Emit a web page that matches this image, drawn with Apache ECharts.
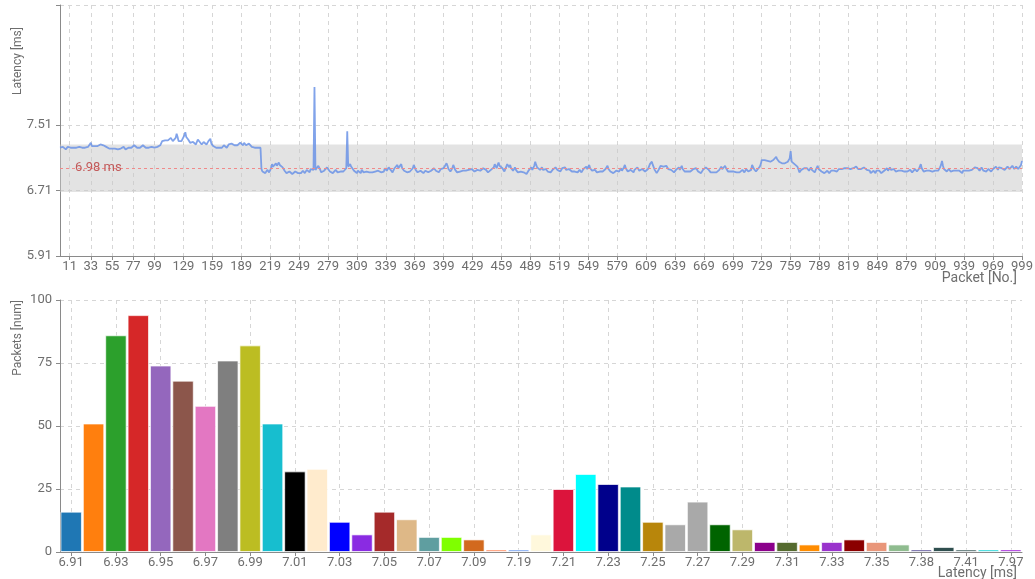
<!DOCTYPE html>
<html>
<head>
<meta charset="utf-8">
<title>Latency</title>
<script src="https://cdn.jsdelivr.net/npm/echarts@6/dist/echarts.min.js"></script>
<style>
html, body { margin: 0; padding: 0; background: #fff; }
#main { width: 1035px; height: 579px; }
</style>
</head>
<body>
<div id="main"></div>
<script>
// latency per packet [ms], packets 1..999
var latency1 = [ // 1-100
	7.23,7.22,7.23,7.24,7.22,7.23,7.21,7.22,7.24,7.23,7.22,7.23,7.22,7.24,7.23,7.22,7.21,7.23,7.22,7.23,
	7.24,7.23,7.22,7.23,7.24,7.22,7.23,7.24,7.23,7.24,7.25,7.24,7.29,7.25,7.24,7.23,7.25,7.24,7.26,7.25,
	7.24,7.25,7.27,7.26,7.27,7.26,7.25,7.26,7.24,7.25,7.23,7.22,7.21,7.23,7.22,7.21,7.23,7.22,7.23,7.22,
	7.21,7.22,7.23,7.22,7.21,7.22,7.24,7.22,7.21,7.23,7.22,7.23,7.21,7.22,7.23,7.25,7.24,7.26,7.25,7.24,
	7.23,7.24,7.22,7.23,7.25,7.24,7.26,7.25,7.24,7.23,7.24,7.22,7.23,7.24,7.23,7.24,7.25,7.24,7.23,7.24
];
var latency2 = [ // 101-140
	7.23,7.24,7.25,7.24,7.26,7.25,7.31,7.33,7.30,7.32,7.31,7.34,7.32,7.31,7.33,7.35,7.36,7.31,7.30,7.32,
	7.35,7.40,7.36,7.31,7.30,7.32,7.31,7.30,7.33,7.38,7.42,7.36,7.34,7.33,7.31,7.29,7.28,7.29,7.30,7.28
];
var latency3 = [ // 141-209
	7.29,7.27,7.28,7.33,7.35,7.30,7.29,7.27,7.28,7.30,7.29,7.28,7.27,7.29,7.31,7.30,7.34,7.28,7.26,7.25,
	7.24,7.25,7.23,7.24,7.22,7.23,7.24,7.25,7.23,7.24,7.26,7.25,7.24,7.23,7.25,7.27,7.26,7.25,7.28,7.27,
	7.29,7.26,7.27,7.28,7.26,7.25,7.27,7.29,7.28,7.27,7.26,7.29,7.28,7.26,7.27,7.25,7.28,7.27,7.26,7.24,
	7.25,7.24,7.23,7.25,7.24,7.23,7.24,7.22,7.23
];
var latency4 = [ // 210-300
	6.97,6.94,6.93,6.95,6.92,6.94,6.96,6.95,6.93,6.94,6.98,7.03,7.00,6.98,7.02,7.04,7.01,7.03,7.05,7.02,
	7.03,7.01,6.99,6.97,6.95,6.94,6.92,6.93,6.92,6.94,6.93,6.92,6.91,6.93,6.92,6.94,6.93,6.95,6.92,6.93,
	6.94,6.92,6.93,6.95,6.94,6.92,6.93,6.96,6.94,6.95,6.93,6.97,6.95,6.98,6.96,7.97,6.96,6.94,6.97,7.01,
	6.99,6.96,6.93,6.94,6.92,6.95,6.93,6.96,6.99,7.01,6.97,6.94,6.93,6.95,6.92,6.94,6.93,6.96,6.94,6.93,
	6.95,6.92,6.94,6.93,6.95,6.94,6.96,6.95,6.98,7.43,7.00
];
var latency5 = [ // 301-720
	7.01,7.03,7.00,7.02,6.98,6.95,6.93,6.94,6.92,6.95,6.93,6.94,6.92,6.96,6.94,6.93,6.95,6.92,6.94,6.96,
	6.95,6.93,6.91,6.94,6.93,6.92,6.95,6.94,6.93,6.96,6.95,6.97,6.94,6.93,6.95,6.92,6.94,6.98,6.96,6.95,
	6.97,6.99,6.98,6.96,6.94,6.93,6.95,6.98,6.97,6.99,7.02,6.98,6.96,6.99,7.03,6.98,6.96,6.95,6.97,6.94,
	6.93,6.95,6.92,6.94,6.96,6.95,6.98,7.02,6.99,6.96,6.95,6.93,6.94,6.92,6.95,6.93,6.94,6.92,6.93,6.95,
	6.94,6.96,6.93,6.92,6.94,6.95,6.93,6.96,6.98,6.97,6.95,6.94,6.96,6.93,6.95,6.97,6.99,6.96,6.98,7.00,
	6.98,7.04,7.01,6.97,6.95,6.94,6.96,6.98,7.02,6.99,6.96,6.94,6.93,6.95,6.92,6.94,6.96,6.93,6.95,6.94,
	6.93,6.95,6.97,6.94,6.96,6.98,6.95,6.97,6.99,6.96,6.94,6.95,6.93,6.96,6.98,6.97,6.95,6.94,6.96,6.98,
	6.97,6.99,6.96,6.95,6.93,6.95,6.94,6.96,6.95,6.97,6.99,7.03,7.01,6.98,7.02,7.05,7.01,6.99,7.02,6.98,
	6.96,6.94,6.97,7.00,7.03,7.01,6.99,7.02,6.98,6.96,6.95,6.97,6.99,6.96,6.94,6.93,6.95,6.92,6.94,6.96,
	6.95,6.93,6.94,6.92,6.91,6.93,6.95,6.94,6.97,6.99,6.96,6.98,7.01,7.06,7.02,6.99,7.00,6.98,6.96,6.97,
	6.99,6.96,6.98,6.95,6.97,6.96,6.94,6.96,6.95,6.93,6.94,6.96,6.95,6.97,6.99,6.98,6.96,6.95,6.97,6.94,
	6.96,6.98,7.00,6.97,6.99,6.96,6.94,6.95,6.97,6.98,6.96,6.94,6.93,6.95,6.94,6.96,6.95,6.93,6.94,6.96,
	6.95,6.93,6.95,6.97,6.96,6.98,7.00,6.97,6.99,7.02,6.98,6.96,6.95,6.97,6.94,6.96,6.95,6.93,6.94,6.92,
	6.94,6.93,6.95,6.94,6.96,6.95,6.97,6.99,7.01,6.97,6.96,6.94,6.93,6.95,6.92,6.94,6.93,6.95,6.97,6.96,
	6.94,6.96,6.98,6.95,6.97,6.99,7.02,6.98,6.96,6.94,6.95,6.93,6.96,6.94,6.95,6.93,6.96,6.98,6.97,6.99,
	6.97,6.95,6.96,6.94,6.97,6.95,6.96,6.94,6.93,6.95,6.97,6.99,7.03,7.05,7.06,7.02,6.99,6.96,6.94,6.92,
	6.94,6.96,6.98,7.01,6.99,7.03,7.00,7.02,6.98,7.01,6.99,6.97,6.95,6.97,6.96,6.94,6.95,6.93,6.94,6.96,
	6.95,6.97,6.99,6.96,6.98,7.01,6.97,6.96,6.94,6.95,6.93,6.94,6.92,6.95,6.94,6.96,6.95,6.97,6.99,6.96,
	6.98,6.96,6.94,6.93,6.95,6.92,6.94,6.96,6.98,6.97,6.99,7.00,6.98,6.96,6.95,6.93,6.94,6.92,6.93,6.95,
	6.94,6.93,6.92,6.94,6.96,6.98,7.00,6.97,6.99,6.98,7.01,6.98,6.96,6.94,6.93,6.95,6.94,6.93,6.95,6.94,
	6.96,6.95,6.93,6.94,6.92,6.93,6.95,6.94,6.96,6.94,6.93,6.95,6.97,6.96,6.94,6.95,6.93,6.96,7.02,7.04
];
var latency6 = [ // 721-770
	6.97,6.95,6.94,6.96,6.97,6.95,7.00,7.03,7.08,7.09,7.07,7.08,7.10,7.08,7.07,7.09,7.08,7.06,7.07,7.05,
	7.08,7.06,7.10,7.12,7.09,7.07,7.06,7.08,7.05,7.04,7.06,7.05,7.04,7.05,7.03,7.06,7.05,7.10,7.19,7.06,
	7.04,7.05,7.03,7.01,7.02,7.00,6.97,6.93,6.95,6.96
];
var latency7 = [ // 771-999
	6.94,6.96,6.98,6.97,7.00,6.98,6.96,6.95,6.97,6.99,6.96,6.94,6.95,6.93,6.96,6.98,7.01,6.97,6.95,6.96,
	6.94,6.93,6.95,6.92,6.94,6.93,6.95,6.94,6.92,6.93,6.95,6.94,6.96,6.95,6.97,6.96,6.94,6.95,6.97,6.98,
	6.96,6.97,6.99,6.97,6.98,6.97,6.99,6.98,7.00,6.98,6.97,6.98,6.99,6.98,6.97,6.99,7.00,6.98,6.97,6.98,
	6.99,6.97,6.98,6.97,6.99,6.98,6.97,6.96,6.98,6.97,6.95,6.92,6.94,6.93,6.95,6.94,6.92,6.95,6.94,6.96,
	6.95,6.93,6.92,6.94,6.93,6.95,6.94,6.96,6.98,6.95,6.97,6.99,6.96,6.98,6.95,6.97,6.96,6.94,6.95,6.93,
	6.95,6.94,6.96,6.95,6.97,6.95,6.94,6.93,6.95,6.94,6.92,6.94,6.96,6.95,6.93,6.94,6.95,6.97,6.96,6.94,
	6.95,6.97,6.99,7.03,6.98,6.96,6.94,6.95,6.93,6.95,6.94,6.96,6.95,6.97,6.96,6.94,6.95,6.93,6.95,6.94,
	6.96,6.95,6.97,6.99,7.02,7.07,7.01,6.97,6.95,6.96,6.94,6.95,6.97,6.96,6.94,6.95,6.93,6.95,6.94,6.96,
	6.95,6.94,6.96,6.95,6.93,6.94,6.92,6.95,6.94,6.93,6.95,6.94,6.96,6.95,6.93,6.94,6.96,6.95,6.97,6.99,
	6.97,7.00,6.98,6.96,6.95,6.97,6.99,6.97,6.95,6.93,6.96,6.94,6.95,6.97,6.99,6.96,6.94,6.95,6.97,6.96,
	6.98,7.00,6.98,6.96,6.99,6.97,7.01,6.98,6.97,6.99,6.96,6.98,6.97,7.00,6.98,6.97,6.99,6.98,7.01,6.99,
	6.97,6.98,7.00,6.98,6.97,6.99,6.98,7.02,7.07
];

var medianLatency = 6.98;
var bandLow = 6.69;
var bandHigh = 7.27;
var latencyTicks = [5.91, 6.71, 7.51];
var latencyMax = 8.97;
var packetTicks = [11, 33, 55, 77, 99, 129, 159, 189, 219, 249, 279, 309, 339, 369, 399, 429, 459, 489,
	519, 549, 579, 609, 639, 669, 699, 729, 759, 789, 819, 849, 879, 909, 939, 969, 999];

// histogram
var histBins = ['6.91','6.92','6.93','6.94','6.95','6.96','6.97','6.98','6.99','7.00','7.01','7.02','7.03',
	'7.04','7.05','7.06','7.07','7.08','7.09','7.10','7.19','7.20','7.21','7.22','7.23','7.24','7.25','7.26',
	'7.27','7.28','7.29','7.30','7.31','7.32','7.33','7.34','7.35','7.36','7.38','7.39','7.41','7.43','7.97'];
var histCounts = [16,51,86,94,74,68,58,76,82,51,32,33,12,7,16,13,6,6,5,1,1,7,25,31,27,26,12,11,20,11,9,4,4,3,4,5,4,3,1,2,1,1,1];
var histColors = ['#1f77b4','#ff7f0e','#2ca02c','#d62728','#9467bd','#8c564b','#e377c2','#7f7f7f','#bcbd22','#17becf',
	'#000000','#ffebcd','#0000ff','#8a2be2','#a52a2a','#deb887','#5f9ea0','#7fff00','#d2691e','#ff7f50','#6495ed',
	'#fff8dc','#dc143c','#00ffff','#00008b','#008b8b','#b8860b','#a9a9a9','#a9a9a9','#006400','#bdb76b','#8b008b',
	'#556b2f','#ff8c00','#9932cc','#8b0000','#e9967a','#8fbc8f','#483d8b','#2f4f4f','#2f4f4f','#00ced1','#9400d3'];

var latency = latency1.concat(latency2, latency3, latency4, latency5, latency6, latency7);
var packets = [];
for (var i = 0; i < latency.length; i++) {
	packets.push(String(i + 1));
}

var textColor = '#6e6e6e';
var gridLine = { show: true, lineStyle: { color: '#d6d6d6', type: [4, 4] } };
var axisLine = { show: true, lineStyle: { color: '#8a8a8a' } };

function isPacketTick(index, value) {
	return packetTicks.indexOf(Number(value)) >= 0;
}

var myChart = echarts.init(document.getElementById('main'));

var option = {
	animation: false,
	textStyle: { fontFamily: 'Roboto, sans-serif' },
	color: histColors,
	grid: [
		{ left: 60, right: 13, top: 5, height: 251, outerBoundsMode: 'none', containLabel: false },
		{ left: 60, right: 13, top: 300, height: 252, outerBoundsMode: 'none', containLabel: false }
	],
	xAxis: [
		{
			gridIndex: 0,
			type: 'category',
			data: packets,
			boundaryGap: false,
			name: 'Packet [No.]',
			nameLocation: 'end',
			nameGap: -5,
			nameMoveOverlap: false,
			nameTextStyle: { color: textColor, fontSize: 14, align: 'right', verticalAlign: 'top', padding: [15, 0, 0, 0] },
			axisLine: axisLine,
			axisTick: { show: true, interval: isPacketTick, length: 4, lineStyle: { color: '#8a8a8a' } },
			axisLabel: { interval: isPacketTick, color: textColor, fontSize: 13, margin: 4 },
			splitLine: { show: true, interval: isPacketTick, lineStyle: gridLine.lineStyle }
		},
		{
			gridIndex: 1,
			type: 'category',
			data: histBins,
			name: 'Latency [ms]',
			nameLocation: 'end',
			nameGap: -5,
			nameMoveOverlap: false,
			nameTextStyle: { color: textColor, fontSize: 14, align: 'right', verticalAlign: 'top', padding: [14, 0, 0, 0] },
			axisLine: axisLine,
			axisTick: { show: true, interval: 1, alignWithLabel: true, length: 4, lineStyle: { color: '#8a8a8a' } },
			axisLabel: { interval: 1, color: textColor, fontSize: 13, margin: 4 },
			splitLine: { show: true, interval: 1, alignWithLabel: true, lineStyle: gridLine.lineStyle }
		}
	],
	yAxis: [
		{
			gridIndex: 0,
			type: 'value',
			min: latencyTicks[0],
			max: latencyMax,
			name: 'Latency [ms]',
			nameLocation: 'end',
			nameRotate: 90,
			nameGap: -22,
			nameTextStyle: { color: textColor, fontSize: 12, align: 'right', verticalAlign: 'bottom', padding: [0, 0, 36, 0] },
			axisLine: axisLine,
			axisTick: { show: true, length: 4, customValues: latencyTicks.concat([latencyMax]), lineStyle: { color: '#8a8a8a' } },
			axisLabel: {
				customValues: latencyTicks, color: textColor, fontSize: 13,
				formatter: function(v) { return v.toFixed(2); }
			},
			splitLine: gridLine
		},
		{
			gridIndex: 1,
			type: 'value',
			min: 0,
			max: 100,
			interval: 25,
			name: 'Packets [num]',
			nameLocation: 'end',
			nameRotate: 90,
			nameGap: 0,
			nameTextStyle: { color: textColor, fontSize: 12, align: 'right', verticalAlign: 'bottom', padding: [0, 0, 36, 0] },
			axisLine: axisLine,
			axisTick: { show: true, length: 4, lineStyle: { color: '#8a8a8a' } },
			axisLabel: { color: textColor, fontSize: 13 },
			splitLine: gridLine
		}
	],
	series: [
		{
			name: 'latency',
			type: 'line',
			xAxisIndex: 0,
			yAxisIndex: 0,
			data: latency,
			showSymbol: false,
			color: '#6b93e6',
			lineStyle: { width: 1.8, color: '#6b93e6', opacity: 0.85 },
			markArea: {
				silent: true,
				itemStyle: { color: 'rgba(200,200,200,0.5)' },
				data: [[{ yAxis: bandLow }, { yAxis: bandHigh }]]
			},
			markLine: {
				silent: true,
				symbol: 'none',
				lineStyle: { color: '#f08a8a', type: [3, 3], width: 1 },
				label: {
					position: 'insideStart',
					distance: 15,
					color: '#c25b5b',
					fontSize: 13,
					formatter: medianLatency.toFixed(2) + ' ms'
				},
				data: [{ yAxis: medianLatency }]
			}
		},
		{
			name: 'packets',
			type: 'bar',
			xAxisIndex: 1,
			yAxisIndex: 1,
			data: histCounts,
			colorBy: 'data',
			barCategoryGap: '4%',
			itemStyle: { borderColor: 'rgba(255,255,255,0.7)', borderWidth: 1 }
		}
	]
};

myChart.setOption(option);
</script>
</body>
</html>
